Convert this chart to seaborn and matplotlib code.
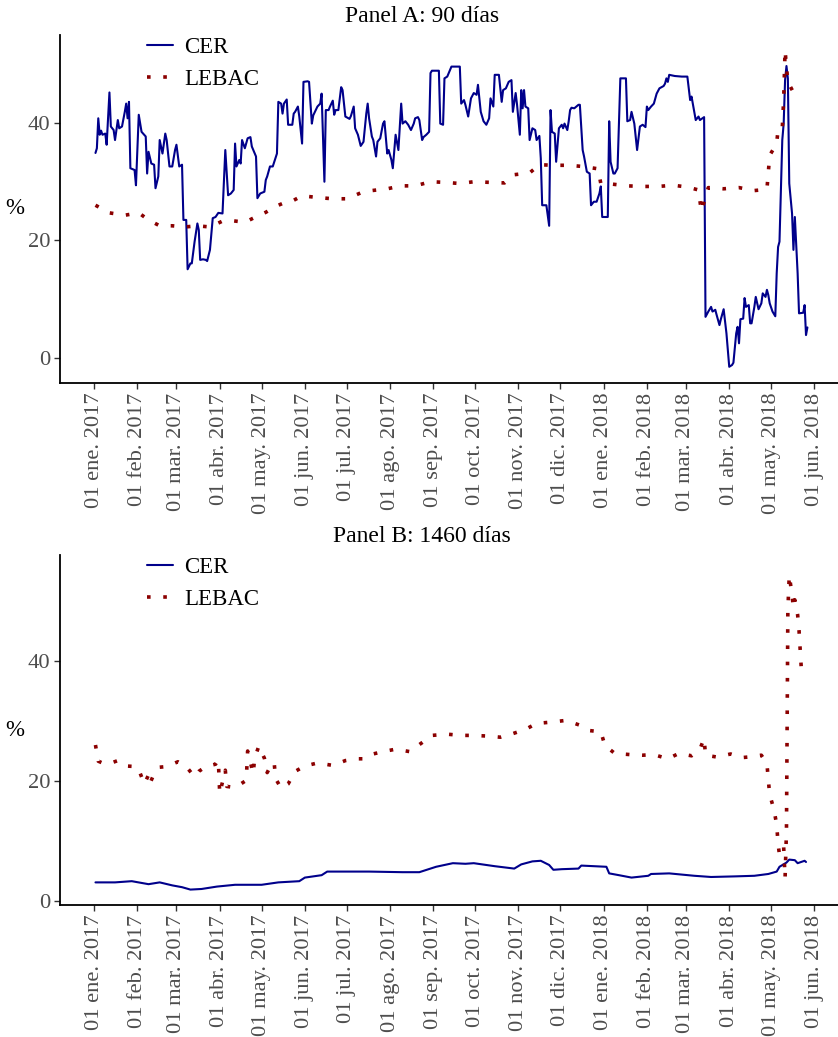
import numpy as np
import pandas as pd
import matplotlib
matplotlib.use("Agg")
import matplotlib.pyplot as plt
import seaborn as sns

# ---------------- DATA ----------------
inicio = "2017-01-01"   # day offsets below are counted from this date

# Panel A (90 días) - CER
cer_a_dia = [1, 2, 3, 4, 5, 6, 8, 9, 11, 12, 14, 15, 17, 18, 20, 22, 23, 24, 25, 26,
             29, 30, 32, 34, 37, 38, 39, 41, 43, 44, 46, 47, 49, 51, 52, 54, 56, 58, 59, 61,
             63, 64, 66, 67, 69, 70, 72, 74, 75, 76, 78, 80, 81, 83, 85, 87, 89, 92, 94, 96,
             98, 100, 101, 102, 104, 105, 106, 108, 110, 112, 113, 116, 117, 119, 122, 123, 124, 126, 128, 131,
             132, 134, 135, 136, 138, 139, 142, 143, 144, 146, 147, 149, 150, 153, 154, 156, 157, 160, 162, 163,
             165, 166, 168, 169, 171, 172, 173, 175, 177, 178, 180, 183, 184, 186, 187, 189, 191, 193, 195, 196,
             197, 199, 200, 202, 203, 205, 207, 208, 210, 211, 213, 214, 216, 218, 220, 221, 223, 225, 227, 229,
             230, 232, 233, 235, 236, 238, 240, 241, 242, 247, 248, 250, 251, 253, 256, 262, 263, 265, 266, 268,
             270, 272, 274, 275, 277, 279, 281, 283, 284, 286, 287, 290, 292, 293, 295, 297, 299, 300, 302, 303,
             305, 306, 307, 308, 309, 311, 312, 314, 316, 317, 319, 320, 321, 324, 326, 327, 328, 330, 331, 333,
             335, 336, 337, 339, 340, 341, 342, 344, 347, 348, 350, 351, 353, 355, 356, 358, 360, 362, 363, 364,
             368, 369, 370, 372, 373, 375, 377, 381, 382, 384, 385, 387, 389, 391, 393, 395, 396, 397, 399, 401,
             403, 405, 408, 409, 410, 411, 412, 416, 421, 425, 427, 428, 430, 431, 433, 434, 437, 438, 440, 442,
             443, 445, 446, 448, 449, 451, 453, 455, 457, 458, 460, 461, 462, 463, 465, 466, 467, 469, 470, 471,
             473, 474, 476, 478, 479, 481, 482, 483, 484, 486, 488, 489, 490, 491, 493, 494, 495, 496, 497, 498,
             500, 501, 502, 504, 505, 508, 509, 510, 511]
cer_a_val = [34.9, 35.7, 40.8, 38.0, 38.7, 38.0, 38.2, 36.3, 45.2, 39.4, 38.8, 37.1, 40.5, 39.1, 39.4, 41.9, 43.3, 40.8, 43.6, 32.3,
             32.0, 29.4, 41.4, 38.5, 37.7, 31.4, 35.1, 33.1, 32.9, 28.9, 30.9, 37.1, 34.8, 38.2, 37.1, 32.6, 32.6, 35.4, 36.3, 32.6,
             32.9, 23.5, 23.5, 15.1, 16.1, 16.1, 19.8, 22.9, 21.8, 16.7, 16.8, 16.7, 16.5, 18.4, 23.8, 24.0, 24.7, 24.6, 35.4, 27.7,
             28.0, 28.6, 36.5, 32.6, 33.7, 33.1, 37.1, 35.7, 37.4, 37.6, 36.0, 34.3, 27.2, 28.0, 28.3, 30.3, 30.9, 32.6, 32.6, 34.8,
             43.6, 43.3, 41.6, 43.3, 44.0, 39.7, 39.7, 41.6, 41.9, 42.8, 41.1, 36.5, 47.0, 47.1, 47.0, 39.9, 41.3, 42.8, 43.3, 45.0,
             30.0, 42.2, 42.2, 42.8, 43.8, 41.4, 42.2, 42.2, 46.1, 45.6, 41.1, 40.7, 41.2, 42.8, 39.1, 38.0, 36.1, 36.8, 41.6, 43.3,
             40.8, 37.7, 37.1, 34.3, 36.8, 37.4, 39.9, 40.3, 34.8, 35.4, 33.7, 32.3, 38.0, 35.4, 43.3, 39.9, 40.3, 39.7, 38.8, 39.9,
             40.8, 41.0, 40.5, 37.1, 37.6, 38.0, 38.5, 48.5, 48.9, 48.9, 39.9, 39.7, 47.6, 47.9, 49.6, 49.6, 43.3, 43.9, 43.1, 41.1,
             44.2, 45.1, 44.8, 46.5, 41.9, 40.3, 39.7, 40.8, 44.2, 42.8, 48.2, 48.2, 43.6, 45.6, 45.9, 47.0, 47.3, 41.9, 45.1, 43.1,
             38.0, 45.6, 42.5, 45.6, 42.8, 42.5, 37.1, 39.1, 38.8, 37.1, 37.8, 34.0, 26.0, 26.0, 22.5, 42.2, 38.5, 38.2, 33.4, 39.1,
             39.7, 39.1, 39.9, 38.8, 40.3, 42.2, 42.6, 42.5, 43.1, 43.1, 35.4, 34.3, 31.7, 31.4, 26.0, 26.6, 26.6, 28.0, 29.2, 24.0,
             24.0, 40.3, 33.4, 31.4, 31.4, 32.3, 47.6, 47.6, 40.3, 40.5, 41.9, 39.9, 35.4, 39.4, 39.7, 39.3, 42.8, 42.2, 42.8, 43.3,
             45.0, 45.9, 46.3, 46.7, 47.6, 47.0, 48.2, 48.0, 47.9, 47.9, 43.9, 44.5, 41.9, 40.5, 41.1, 40.5, 41.0, 7.0, 7.9, 8.7,
             7.9, 8.2, 7.3, 5.6, 6.6, 8.3, 4.2, -1.5, -1.2, -0.8, 4.2, 5.3, 2.5, 6.6, 6.7, 10.2, 8.7, 9.0, 5.9, 5.9,
             8.7, 10.4, 8.3, 9.3, 11.0, 10.4, 11.6, 10.7, 9.3, 7.9, 7.1, 14.4, 18.9, 19.8, 37.1, 39.9, 47.3, 49.7, 47.6, 29.7,
             24.6, 18.4, 24.0, 14.4, 7.6, 7.7, 9.0, 3.9, 5.2]

# Panel A (90 días) - LEBAC
lebac_a_dia = [1, 11, 22, 32, 39, 47, 56, 65, 74, 83, 92, 98, 108, 114, 123, 130, 136, 141, 149, 161,
               171, 181, 191, 199, 210, 220, 230, 241, 251, 262, 272, 283, 294, 301, 312, 319, 329, 340, 350, 361,
               363, 371, 382, 393, 404, 415, 425, 433, 435, 440, 451, 462, 473, 482, 484, 489, 490, 493, 494, 495,
               496, 497, 501, 505]
lebac_a_val = [26.0, 24.7, 24.3, 24.7, 23.5, 22.5, 22.5, 22.3, 22.5, 22.3, 23.3, 23.4, 23.1, 23.8, 24.8, 25.8, 26.4, 26.6, 27.6, 27.3,
               27.1, 27.1, 28.1, 28.5, 28.8, 29.3, 29.3, 30.0, 29.9, 29.7, 30.0, 29.9, 29.8, 31.2, 31.5, 32.9, 32.8, 32.8, 32.6, 32.2,
               29.7, 29.6, 29.3, 29.2, 29.2, 29.4, 29.1, 28.6, 25.0, 29.0, 28.8, 29.0, 28.5, 28.7, 34.5, 36.5, 39.0, 39.1, 44.0, 52.4,
               49.5, 47.0, 45.2, 44.0]

# Panel B (1460 días) - CER
cer_b_dia = [1, 15, 27, 39, 47, 56, 63, 69, 77, 88, 101, 120, 132, 147, 151, 163, 167, 183, 197, 221,
             233, 245, 257, 266, 272, 287, 301, 306, 314, 320, 326, 329, 335, 347, 349, 367, 369, 376, 385, 397,
             399, 412, 430, 442, 459, 473, 483, 489, 491, 496, 498, 502, 504, 509, 510]
cer_b_val = [3.1, 3.1, 3.3, 2.8, 3.1, 2.6, 2.3, 1.9, 2.0, 2.4, 2.7, 2.7, 3.1, 3.3, 3.9, 4.3, 4.9, 4.9, 4.9, 4.8,
             4.8, 5.7, 6.3, 6.2, 6.3, 5.8, 5.4, 6.1, 6.6, 6.7, 6.0, 5.2, 5.3, 5.4, 5.9, 5.7, 4.6, 4.3, 3.9, 4.2,
             4.5, 4.6, 4.2, 4.0, 4.1, 4.2, 4.5, 4.9, 5.7, 6.4, 6.9, 6.8, 6.3, 6.7, 6.5]

# Panel B (1460 días) - LEBAC
lebac_b_dia = [1, 3, 7, 11, 17, 23, 30, 33, 36, 39, 40, 43, 47, 52, 60, 66, 72, 75, 80, 87,
               89, 90, 94, 95, 101, 109, 110, 114, 115, 118, 122, 124, 126, 129, 130, 134, 139, 144, 151, 160,
               171, 180, 188, 193, 198, 207, 216, 226, 235, 242, 253, 263, 271, 281, 291, 300, 309, 317, 327, 338,
               348, 355, 363, 366, 373, 384, 393, 401, 411, 419, 428, 434, 437, 438, 446, 456, 464, 469, 478, 482,
               483, 484, 487, 489, 490, 491, 493, 494, 495, 496, 497, 498, 500, 501, 502, 504, 505, 507]
lebac_b_val = [26.0, 23.3, 22.9, 22.9, 23.4, 22.5, 22.4, 21.3, 19.5, 21.0, 19.6, 21.2, 22.3, 22.4, 23.2, 22.4, 20.7, 21.6, 22.4, 22.8,
               23.5, 17.9, 21.8, 19.1, 18.9, 20.1, 25.0, 21.2, 23.8, 25.8, 23.8, 21.4, 22.3, 23.1, 20.4, 18.8, 19.5, 21.6, 22.5, 23.0,
               22.6, 23.4, 23.7, 23.7, 24.4, 24.9, 25.3, 24.9, 26.4, 27.6, 27.8, 27.6, 27.6, 27.5, 27.3, 27.9, 28.6, 29.6, 29.8, 30.1,
               29.3, 28.4, 28.2, 25.9, 24.6, 24.4, 24.3, 24.4, 23.7, 24.6, 24.2, 25.3, 27.1, 24.3, 24.0, 24.5, 23.9, 24.0, 24.3, 22.9,
               20.2, 17.7, 15.3, 12.7, 9.5, 7.7, 8.0, 9.0, 3.8, 11.6, 48.5, 54.3, 51.0, 48.8, 50.2, 47.7, 45.1, 37.3]

meses = ["ene.", "feb.", "mar.", "abr.", "may.", "jun.", "jul.", "ago.", "sep.", "oct.", "nov.", "dic."]
ticks_y = [0, 20, 40]
titulos = ["Panel A: 90 días", "Panel B: 1460 días"]
series = ["CER", "LEBAC"]

assert len(cer_a_dia) == len(cer_a_val)
assert len(lebac_a_dia) == len(lebac_a_val)
assert len(cer_b_dia) == len(cer_b_val)
assert len(lebac_b_dia) == len(lebac_b_val)

# ---------------- STYLE ----------------
sns.set_theme(style="white")
plt.rcParams["font.family"] = ["Liberation Serif", "DejaVu Serif"]
plt.rcParams["font.size"] = 16.5

AZUL = "#00008B"
ROJO = "#8B0000"
GRIS = "#4D4D4D"

W, H = 838, 1037
fig = plt.figure(figsize=(W / 100, H / 100), dpi=100)


def px_axes(l, t, r, b):
    return fig.add_axes([l / W, 1 - b / H, (r - l) / W, (b - t) / H])


t0 = pd.Timestamp(inicio)
tick_dates = pd.date_range("2017-01-01", "2018-06-01", freq="MS")
tick_labels = [f"01 {meses[d.month - 1]} {d.year}" for d in tick_dates]


def panel(ax, cd, cv, ld, lv, ylim, titulo, ytitle):
    dfc = pd.DataFrame({"fecha": t0 + pd.to_timedelta(cd, unit="D"), "valor": cv})
    dfl = pd.DataFrame({"fecha": t0 + pd.to_timedelta(ld, unit="D"), "valor": lv})
    sns.lineplot(data=dfc, x="fecha", y="valor", ax=ax, estimator=None, sort=False,
                 color=AZUL, linewidth=1.5, label=series[0])
    sns.lineplot(data=dfl, x="fecha", y="valor", ax=ax, estimator=None, sort=False,
                 color=ROJO, linewidth=2.6, linestyle=(0, (1, 3.5)), label=series[1])
    ax.set_xlim(pd.Timestamp("2016-12-07 14:00"), pd.Timestamp("2018-06-17 22:00"))
    ax.set_ylim(*ylim)
    ax.set_xticks(tick_dates)
    ax.set_xticklabels(tick_labels, rotation=90, color=GRIS, fontsize=16.2)
    ax.set_yticks(ticks_y)
    ax.set_yticklabels([str(v) for v in ticks_y], color=GRIS, fontsize=16.2)
    ax.tick_params(axis="both", direction="out", length=4.5, width=1.0, color="#333333", pad=2.5,
                   bottom=True, left=True)
    for s in ["top", "right"]:
        ax.spines[s].set_visible(False)
    for s in ["left", "bottom"]:
        ax.spines[s].set_color("black")
        ax.spines[s].set_linewidth(1.3)
    ax.set_xlabel("")
    ax.set_ylabel("%", rotation=0, fontsize=16.5, color="black", va="center", ha="center")
    ax.yaxis.set_label_coords(-0.058, 0.5)
    ax.grid(False)
    leg = ax.legend(loc="upper left", bbox_to_anchor=(0.112, 0.994), frameon=False, fontsize=16.5,
                    handlelength=1.15, handletextpad=0.45, labelspacing=0.47, borderpad=0.0,
                    borderaxespad=0.0)
    for t in leg.get_texts():
        t.set_color("black")
    fig.text(422 / W, 1 - ytitle / H, titulo, ha="center", va="center", fontsize=17, color="black")


axA = px_axes(60, 35, 838, 383)
axB = px_axes(60, 555, 838, 905)
panel(axA, cer_a_dia, cer_a_val, lebac_a_dia, lebac_a_val, (-4.26, 54.98), titulos[0], 17)
panel(axB, cer_b_dia, cer_b_val, lebac_b_dia, lebac_b_val, (-0.67, 57.67), titulos[1], 537)

fig.savefig("out.png", dpi=100, facecolor="white")
